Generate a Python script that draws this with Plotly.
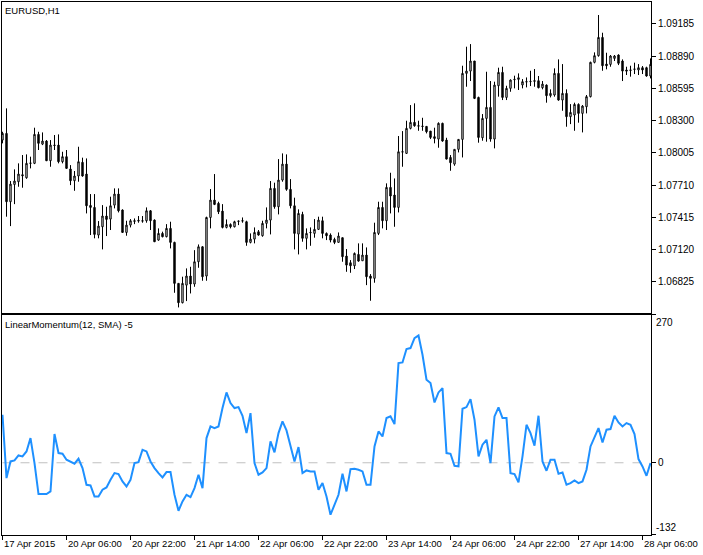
import pandas as pd
import plotly.graph_objects as go

# ---------------- data ----------------
opens = [1.08123,1.08184,1.07559,1.07717,1.07742,1.07806,1.07778,1.07910,1.07910,1.08175,
1.08086,1.08114,1.07934,1.08077,1.08077,1.07925,1.07971,1.07858,1.07751,1.07794,
1.07919,1.07812,1.07525,1.07507,1.07254,1.07330,1.07428,1.07400,1.07528,1.07629,
1.07483,1.07278,1.07345,1.07379,1.07382,1.07385,1.07385,1.07476,1.07391,1.07208,
1.07269,1.07239,1.07315,1.07187,1.06812,1.06635,1.06796,1.06879,1.06806,1.07010,
1.07147,1.06879,1.07415,1.07574,1.07544,1.07473,1.07324,1.07351,1.07330,1.07379,
1.07382,1.07376,1.07187,1.07217,1.07284,1.07248,1.07361,1.07391,1.07681,1.07513,
1.07757,1.07903,1.07672,1.07522,1.07263,1.07443,1.07224,1.07275,1.07269,1.07306,
1.07385,1.07269,1.07254,1.07214,1.07187,1.07230,1.07062,1.07001,1.06973,1.07077,
1.07019,1.07071,1.06879,1.06858,1.07269,1.07507,1.07385,1.07690,1.07620,1.07507,
1.08013,1.08001,1.08230,1.08285,1.08254,1.08251,1.08248,1.08205,1.08154,1.08132,
1.08276,1.08123,1.07964,1.07903,1.08038,1.08129,1.08733,1.08754,1.08846,1.08513,
1.08144,1.08321,1.08422,1.08132,1.08620,1.08742,1.08513,1.08596,1.08675,1.08678,
1.08627,1.08654,1.08657,1.08660,1.08666,1.08602,1.08626,1.08529,1.08535,1.08733,
1.08489,1.08550,1.08337,1.08352,1.08449,1.08367,1.08428,1.08520,1.08834,1.08895,
1.09062,1.08818,1.08815,1.08870,1.08901,1.08846,1.08764,1.08760,1.08770,1.08764,
1.08785,1.08785,1.08709]
highs = [1.08199,1.08413,1.07748,1.07855,1.07910,1.07986,1.07992,1.07971,1.08236,1.08199,
1.08193,1.08123,1.08123,1.08169,1.08175,1.08016,1.08032,1.07894,1.07840,1.08062,
1.07962,1.07955,1.07629,1.07629,1.07382,1.07528,1.07513,1.07605,1.07681,1.07681,
1.07489,1.07385,1.07400,1.07406,1.07428,1.07428,1.07507,1.07483,1.07397,1.07315,
1.07285,1.07354,1.07376,1.07193,1.06812,1.06873,1.06949,1.06964,1.07116,1.07168,
1.07153,1.07422,1.07675,1.07812,1.07559,1.07537,1.07397,1.07361,1.07385,1.07385,
1.07415,1.07385,1.07269,1.07324,1.07300,1.07385,1.07507,1.07748,1.07733,1.07949,
1.08001,1.07992,1.07766,1.07596,1.07489,1.07467,1.07315,1.07324,1.07400,1.07422,
1.07422,1.07278,1.07269,1.07230,1.07278,1.07230,1.07126,1.07025,1.07095,1.07178,
1.07178,1.07141,1.06897,1.07367,1.07559,1.07559,1.07727,1.07824,1.07772,1.08160,
1.08205,1.08300,1.08443,1.08459,1.08300,1.08327,1.08251,1.08205,1.08236,1.08285,
1.08282,1.08144,1.07986,1.08038,1.08129,1.08803,1.08977,1.09001,1.08846,1.08520,
1.08361,1.08748,1.08663,1.08657,1.08785,1.08794,1.08620,1.08678,1.08712,1.08733,
1.08681,1.08696,1.08757,1.08773,1.08709,1.08663,1.08632,1.08587,1.08779,1.08861,
1.08818,1.08587,1.08452,1.08465,1.08459,1.08443,1.08535,1.08840,1.08925,1.09267,
1.09105,1.08922,1.08901,1.08901,1.08907,1.08861,1.08794,1.08803,1.08831,1.08818,
1.08800,1.08794,1.08870]
lows = [1.08093,1.07422,1.07336,1.07537,1.07696,1.07687,1.07769,1.07864,1.07903,1.08032,
1.08077,1.07931,1.07879,1.08032,1.07910,1.07910,1.07861,1.07711,1.07659,1.07742,
1.07788,1.07452,1.07254,1.07224,1.07224,1.07123,1.07245,1.07300,1.07498,1.07461,
1.07275,1.07248,1.07324,1.07354,1.07367,1.07367,1.07367,1.07300,1.07190,1.07202,
1.07233,1.07233,1.07132,1.06726,1.06592,1.06629,1.06650,1.06720,1.06781,1.06955,
1.06836,1.06836,1.07315,1.07528,1.07446,1.07315,1.07315,1.07315,1.07324,1.07345,
1.07367,1.07156,1.07178,1.07178,1.07248,1.07239,1.07315,1.07260,1.07495,1.07443,
1.07742,1.07659,1.07498,1.07123,1.07077,1.07193,1.07123,1.07156,1.07230,1.07300,
1.07224,1.07208,1.07187,1.07171,1.07187,1.07010,1.06918,1.06909,1.06943,1.07010,
1.07019,1.06796,1.06653,1.06818,1.07254,1.07315,1.07300,1.07452,1.07330,1.07461,
1.07879,1.07998,1.08221,1.08245,1.08208,1.08208,1.08184,1.08132,1.08093,1.08053,
1.08108,1.07946,1.07842,1.07888,1.08010,1.07964,1.08611,1.08663,1.08498,1.08099,
1.08117,1.08108,1.08108,1.08047,1.08520,1.08489,1.08489,1.08565,1.08596,1.08581,
1.08596,1.08605,1.08617,1.08611,1.08596,1.08587,1.08465,1.08513,1.08520,1.08483,
1.08391,1.08245,1.08269,1.08208,1.08282,1.08193,1.08367,1.08513,1.08825,1.08886,
1.08757,1.08770,1.08794,1.08846,1.08809,1.08663,1.08718,1.08703,1.08727,1.08718,
1.08727,1.08703,1.08687]
closes = [1.08184,1.07559,1.07720,1.07748,1.07812,1.07797,1.07910,1.07913,1.08175,1.08093,
1.08114,1.07934,1.08077,1.08074,1.07925,1.07971,1.07864,1.07751,1.07794,1.07925,
1.07794,1.07522,1.07507,1.07260,1.07336,1.07428,1.07397,1.07522,1.07629,1.07476,
1.07278,1.07345,1.07385,1.07385,1.07388,1.07382,1.07476,1.07385,1.07193,1.07269,
1.07239,1.07315,1.07187,1.06812,1.06635,1.06812,1.06879,1.06806,1.07010,1.07147,
1.06873,1.07415,1.07574,1.07534,1.07467,1.07324,1.07351,1.07330,1.07376,1.07382,
1.07385,1.07187,1.07217,1.07278,1.07254,1.07361,1.07391,1.07681,1.07513,1.07757,
1.07903,1.07672,1.07522,1.07269,1.07452,1.07224,1.07269,1.07278,1.07306,1.07391,
1.07269,1.07248,1.07208,1.07187,1.07245,1.07056,1.06979,1.06973,1.07086,1.07016,
1.07071,1.06873,1.06858,1.07278,1.07507,1.07385,1.07690,1.07611,1.07507,1.08016,
1.08016,1.08230,1.08285,1.08254,1.08251,1.08248,1.08199,1.08147,1.08138,1.08276,
1.08114,1.07949,1.07916,1.08038,1.08129,1.08733,1.08754,1.08846,1.08504,1.08147,
1.08321,1.08422,1.08132,1.08626,1.08742,1.08513,1.08596,1.08672,1.08678,1.08693,
1.08657,1.08657,1.08660,1.08666,1.08602,1.08635,1.08529,1.08550,1.08733,1.08489,
1.08550,1.08337,1.08376,1.08449,1.08367,1.08434,1.08520,1.08834,1.08895,1.09062,
1.08803,1.08803,1.08892,1.08892,1.08825,1.08754,1.08754,1.08764,1.08773,1.08785,
1.08764,1.08709,1.08815]
momentum = [87.7,-28.0,2.4,4.3,13.4,11.6,20.7,45.1,-0.6,-57.2,
-57.2,-57.2,-52.4,52.4,17.7,16.4,5.5,2.4,-1.8,7.3,
-9.7,-40.2,-41.4,-61.5,-61.5,-49.3,-45.1,-31.1,-18.9,-20.7,
-34.1,-43.2,-31.1,-0.6,1.2,23.8,20.7,2.4,-9.7,-18.9,
-26.8,-17.1,-17.1,-58.5,-87.7,-70.6,-58.5,-62.7,-46.3,-21.9,
-46.3,45.1,66.4,63.3,66.4,99.9,128.5,109.0,99.9,101.7,
85.9,54.2,90.7,-0.6,-21.9,-17.7,-9.7,39.0,18.9,54.2,
75.5,59.1,32.9,2.4,28.6,-18.9,-14.0,-15.8,-15.8,-49.3,
-37.1,-61.5,-95.0,-76.7,-58.5,-20.1,-52.4,-11.6,-11.0,-12.8,
-15.8,-40.2,-40.2,29.8,57.2,48.1,81.6,84.7,70.6,182.1,
183.3,207.7,209.5,227.8,232.6,197.3,151.6,145.6,110.2,128.5,
136.4,17.7,16.4,-5.5,-6.7,98.7,101.7,116.3,78.6,11.6,
32.9,42.0,-0.6,84.7,101.1,81.6,81.6,-18.9,-20.7,-35.9,
11.6,69.4,54.2,31.1,85.9,2.4,-14.6,5.5,5.5,-20.1,
-17.7,-40.2,-37.1,-32.3,-37.1,-34.1,-12.8,29.8,45.1,63.3,
37.1,60.3,61.5,85.9,73.7,66.4,72.5,69.4,52.4,6.7,
-6.7,-23.8,-0.6]

# hourly trading bars (weekends skipped)
_hours = pd.date_range("2015-04-17 14:00", "2015-04-28 08:00", freq="h")
_hours = _hours[_hours.dayofweek < 5]
times = [t.strftime("%Y-%m-%d %H:%M") for t in _hours]

time_tick_vals = ["2015-04-17 14:00", "2015-04-20 06:00", "2015-04-20 22:00", "2015-04-21 14:00",
                  "2015-04-22 06:00", "2015-04-22 22:00", "2015-04-23 14:00", "2015-04-24 06:00",
                  "2015-04-24 22:00", "2015-04-27 14:00", "2015-04-28 06:00"]
time_tick_text = ["17 Apr 2015", "20 Apr 06:00", "20 Apr 22:00", "21 Apr 14:00", "22 Apr 06:00",
                  "22 Apr 22:00", "23 Apr 14:00", "24 Apr 06:00", "24 Apr 22:00",
                  "27 Apr 14:00", "28 Apr 06:00"]
price_ticks = [1.06825, 1.07120, 1.07415, 1.07710, 1.08005, 1.08300, 1.08595, 1.08890, 1.09185]
price_tick_text = ["1.06825", "1.07120", "1.07415", "1.07710", "1.08005", "1.08300",
                   "1.08595", "1.08890", "1.09185"]
mom_min, mom_max = -132, 270

# ---------------- figure ----------------
fig = go.Figure()
fig.add_trace(go.Candlestick(
    x=times, open=opens, high=highs, low=lows, close=closes,
    increasing=dict(line=dict(color="black", width=1), fillcolor="white"),
    decreasing=dict(line=dict(color="black", width=1), fillcolor="black"),
    whiskerwidth=0, hoverinfo="skip", xaxis="x", yaxis="y", showlegend=False))

fig.add_trace(go.Scatter(
    x=[times[0], times[-1]], y=[0, 0], mode="lines",
    line=dict(color="#C0C0C0", width=1, dash="dash"),
    xaxis="x2", yaxis="y2", hoverinfo="skip", showlegend=False))

fig.add_trace(go.Scatter(
    x=times, y=momentum, mode="lines",
    line=dict(color="#1E90FF", width=2),
    xaxis="x2", yaxis="y2", hoverinfo="skip", showlegend=False))

axis_font = dict(family="Liberation Sans", size=10, color="black")
lbl_font = dict(family="Liberation Sans", size=9.5, color="black")
xr = [-0.125, len(times) - 1 + 0.125]

fig.update_layout(
    width=703, height=555,
    margin=dict(l=2, r=52, t=2, b=20, autoexpand=False),
    paper_bgcolor="white", plot_bgcolor="white",
    showlegend=False, boxgap=0.5,
    xaxis=dict(type="category", range=xr, domain=[0, 1], anchor="y", automargin=False,
               showline=True, mirror=True, linecolor="black", linewidth=1,
               showgrid=False, zeroline=False, showticklabels=False, ticks="",
               rangeslider=dict(visible=False)),
    yaxis=dict(domain=[0.4165, 1], range=[1.06541, 1.09386], side="right", anchor="x",
               automargin=False,
               showline=True, mirror=True, linecolor="black", linewidth=1,
               showgrid=False, zeroline=False,
               tickvals=price_ticks, ticktext=price_tick_text,
               ticks="outside", ticklen=4, tickcolor="black", tickfont=axis_font),
    xaxis2=dict(type="category", range=xr, domain=[0, 1], anchor="y2", matches="x",
                automargin=False,
                showline=True, mirror=True, linecolor="black", linewidth=1,
                showgrid=False, zeroline=False,
                tickvals=time_tick_vals, showticklabels=False,
                ticks="outside", ticklen=4, tickcolor="black"),
    yaxis2=dict(domain=[0, 0.4128], range=[mom_min, mom_max], side="right", anchor="x2",
                automargin=False,
                showline=True, mirror=True, linecolor="black", linewidth=1,
                showgrid=False, zeroline=False,
                tickvals=[mom_min, 0, mom_max], ticktext=["", "0", ""],
                ticks="outside", ticklen=4, tickcolor="black", tickfont=axis_font),
)

# time labels, left-aligned at their tick as in the reference
for tv, tt in zip(time_tick_vals, time_tick_text):
    fig.add_annotation(text=tt, xref="x2", yref="paper", x=tv, y=0,
                       xanchor="left", yanchor="top", xshift=-1, yshift=-1,
                       showarrow=False, font=lbl_font)

fig.add_annotation(text="EURUSD,H1", xref="paper", yref="paper", x=0, y=1,
                   xanchor="left", yanchor="top", xshift=1, yshift=-1,
                   showarrow=False, font=lbl_font)
fig.add_annotation(text="LinearMomentum(12, SMA) -5", xref="paper", yref="y2 domain",
                   x=0, y=1, xanchor="left", yanchor="top", xshift=1, yshift=-2,
                   showarrow=False, font=lbl_font)
fig.add_annotation(text=str(mom_max), xref="paper", yref="y2", x=1, y=mom_max,
                   xanchor="left", yanchor="top", xshift=3, yshift=0,
                   showarrow=False, font=axis_font)
fig.add_annotation(text=str(mom_min), xref="paper", yref="y2", x=1, y=mom_min,
                   xanchor="left", yanchor="bottom", xshift=3, yshift=0,
                   showarrow=False, font=axis_font)

fig.write_html("out.html", config={"displayModeBar": False},
               post_script="document.body.style.margin='0';")
